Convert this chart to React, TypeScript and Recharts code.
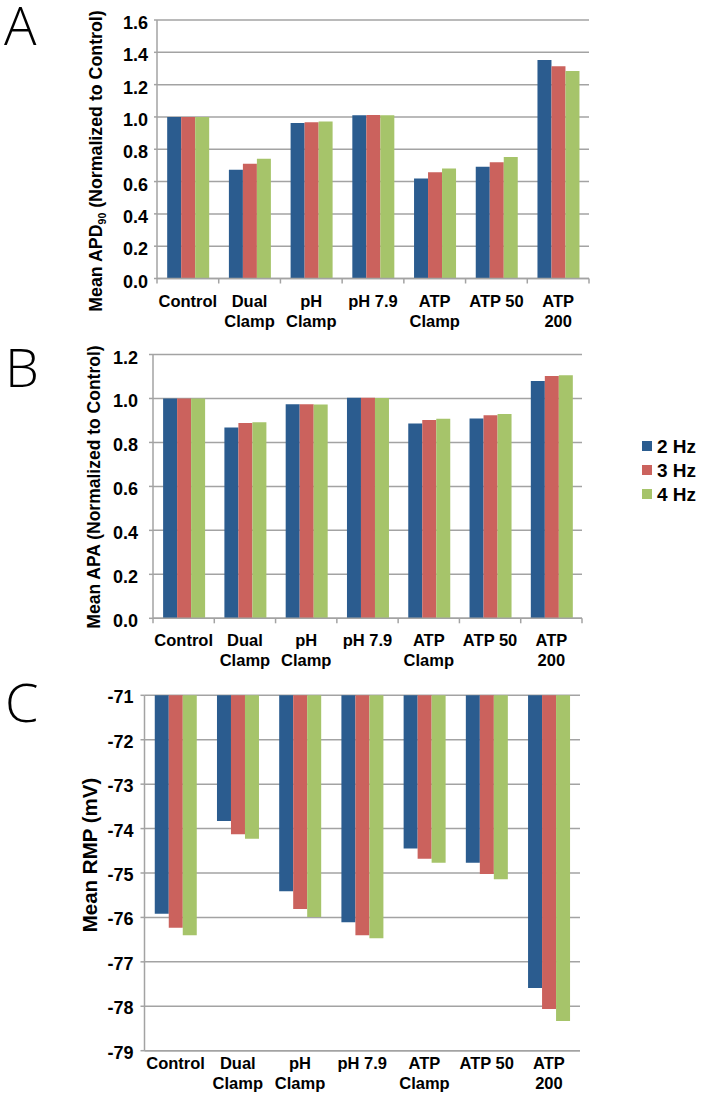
import React from 'react';
import { BarChart, Bar, XAxis, YAxis, CartesianGrid } from 'recharts';

// ---------- data ----------
const categories = ['Control', 'Dual\nClamp', 'pH\nClamp', 'pH 7.9', 'ATP\nClamp', 'ATP 50', 'ATP\n200'];
const seriesNames = ['2 Hz', '3 Hz', '4 Hz'];

const apd2Hz = [1.0, 0.673, 0.963, 1.01, 0.619, 0.692, 1.352];
const apd3Hz = [1.0, 0.71, 0.967, 1.012, 0.658, 0.72, 1.313];
const apd4Hz = [1.0, 0.741, 0.971, 1.01, 0.681, 0.752, 1.284];

const apa2Hz = [1.0, 0.868, 0.974, 1.003, 0.886, 0.909, 1.08];
const apa3Hz = [1.0, 0.888, 0.974, 1.003, 0.902, 0.924, 1.102];
const apa4Hz = [1.0, 0.892, 0.973, 1.002, 0.908, 0.929, 1.106];

const rmp2Hz = [-75.92, -73.83, -75.41, -76.11, -74.45, -74.77, -77.59];
const rmp3Hz = [-76.23, -74.13, -75.81, -76.4, -74.68, -75.02, -78.06];
const rmp4Hz = [-76.4, -74.23, -75.99, -76.47, -74.77, -75.14, -78.33];

const apdTicks = [0, 0.2, 0.4, 0.6, 0.8, 1.0, 1.2, 1.4, 1.6];
const apaTicks = [0, 0.2, 0.4, 0.6, 0.8, 1.0, 1.2];
const rmpTicks = [-79, -78, -77, -76, -75, -74, -73, -72, -71];

// ---------- style ----------
const COLORS = ['#2B5C8F', '#CB625D', '#A6C46A'];
const GRAY = '#a3a3a3';
const FONT = '"Liberation Sans", Arial, Helvetica, sans-serif';

const build = (a: number[], b: number[], c: number[]) =>
  categories.map((name, i) => ({ name, hz2: a[i], hz3: b[i], hz4: c[i] }));

const apdData = build(apd2Hz, apd3Hz, apd4Hz);
const apaData = build(apa2Hz, apa3Hz, apa4Hz);
const rmpData = build(rmp2Hz, rmp3Hz, rmp4Hz);

function makeXTick(band: number, firstOffset: number, lineH: number, drawTicks: boolean) {
  return (props: any) => {
    const { x, y, payload, index } = props;
    const lines = String(payload.value).split('\n');
    return (
      <g>
        {drawTicks && (
          <line x1={x - band / 2} x2={x - band / 2} y1={y} y2={y + 5} stroke={GRAY} strokeWidth={1.5} />
        )}
        {drawTicks && index === categories.length - 1 && (
          <line x1={x + band / 2} x2={x + band / 2} y1={y} y2={y + 5} stroke={GRAY} strokeWidth={1.5} />
        )}
        <text
          x={x}
          y={y + firstOffset}
          textAnchor="middle"
          dominantBaseline="central"
          fontFamily={FONT}
          fontWeight="bold"
          fontSize={16.5}
          fill="#000"
        >
          {lines.map((l, i) => (
            <tspan key={i} x={x} dy={i === 0 ? 0 : lineH}>
              {l}
            </tspan>
          ))}
        </text>
      </g>
    );
  };
}

function makeTopTick(band: number) {
  return (props: any) => {
    const { x, y, index } = props;
    return (
      <g>
        <line x1={x - band / 2} x2={x - band / 2} y1={y} y2={y + 5} stroke={GRAY} strokeWidth={1.5} />
        {index === categories.length - 1 && (
          <line x1={x + band / 2} x2={x + band / 2} y1={y} y2={y + 5} stroke={GRAY} strokeWidth={1.5} />
        )}
      </g>
    );
  };
}

function makeYTick(fmt: (v: number) => string, dy: number) {
  return (props: any) => {
    const { x, y, payload } = props;
    return (
      <text
        x={x}
        y={y + dy}
        textAnchor="end"
        dominantBaseline="central"
        fontFamily={FONT}
        fontWeight="bold"
        fontSize={18}
        fill="#000"
      >
        {fmt(payload.value)}
      </text>
    );
  };
}

const bars = () =>
  ['hz2', 'hz3', 'hz4'].map((k, i) => (
    <Bar key={k} dataKey={k} name={seriesNames[i]} fill={COLORS[i]} isAnimationActive={false} />
  ));

export default function App() {
  return (
    <div style={{ position: 'absolute', left: 0, top: 0, width: 703, height: 1097, background: '#fff' }}>
      {/* Panel A */}
      <div style={{ position: 'absolute', left: 0, top: 0 }}>
        <BarChart
          width={703}
          height={345}
          data={apdData}
          margin={{ top: 20, right: 114, left: 97, bottom: 16.5 }}
          barCategoryGap="16.5%"
          barGap={0}
        >
          <CartesianGrid vertical={false} stroke={GRAY} strokeWidth={1.5} />
          <XAxis
            dataKey="name"
            height={50}
            interval={0}
            tickSize={0}
            tickMargin={0}
            axisLine={{ stroke: GRAY, strokeWidth: 1.5 }}
            tickLine={false}
            tick={makeXTick(432 / 7, 22.5, 19.5, true)}
          />
          <YAxis
            type="number"
            domain={[0, 1.6]}
            ticks={apdTicks}
            width={60}
            tickSize={3}
            tickMargin={6}
            axisLine={{ stroke: GRAY, strokeWidth: 1.5 }}
            tickLine={{ stroke: GRAY, strokeWidth: 1.5 }}
            tick={makeYTick((v) => v.toFixed(1), 3)}
          />
          {bars()}
        </BarChart>
      </div>

      {/* Panel B */}
      <div style={{ position: 'absolute', left: 0, top: 340 }}>
        <BarChart
          width={703}
          height={330}
          data={apaData}
          margin={{ top: 14.5, right: 121, left: 93, bottom: 1.7 }}
          barCategoryGap="16.5%"
          barGap={0}
        >
          <CartesianGrid vertical={false} stroke={GRAY} strokeWidth={1.5} />
          <XAxis
            dataKey="name"
            height={50}
            interval={0}
            tickSize={0}
            tickMargin={0}
            axisLine={{ stroke: GRAY, strokeWidth: 1.5 }}
            tickLine={false}
            tick={makeXTick(429 / 7, 21.7, 20, true)}
          />
          <YAxis
            type="number"
            domain={[0, 1.2]}
            ticks={apaTicks}
            width={60}
            tickSize={4}
            tickMargin={11}
            axisLine={{ stroke: GRAY, strokeWidth: 1.5 }}
            tickLine={{ stroke: GRAY, strokeWidth: 1.5 }}
            tick={makeYTick((v) => v.toFixed(1), 3)}
          />
          {bars()}
        </BarChart>
      </div>

      {/* Panel C */}
      <div style={{ position: 'absolute', left: 0, top: 680 }}>
        <BarChart
          width={703}
          height={417}
          data={rmpData}
          margin={{ top: 15.3, right: 123, left: 84.5, bottom: 1.3 }}
          barCategoryGap="16.5%"
          barGap={0}
        >
          <CartesianGrid vertical={false} stroke={GRAY} strokeWidth={1.5} />
          <XAxis
            dataKey="name"
            height={45}
            interval={0}
            tickSize={0}
            tickMargin={0}
            axisLine={{ stroke: GRAY, strokeWidth: 1.5 }}
            tickLine={false}
            tick={makeXTick(435.5 / 7, 12.3, 20, false)}
          />
          <XAxis
            xAxisId="top"
            dataKey="name"
            orientation="top"
            height={0}
            interval={0}
            tickSize={0}
            tickMargin={0}
            axisLine={false}
            tickLine={false}
            tick={makeTopTick(435.5 / 7)}
          />
          <YAxis
            type="number"
            domain={[-79, -71]}
            ticks={rmpTicks}
            width={60}
            tickSize={4}
            tickMargin={7}
            axisLine={{ stroke: GRAY, strokeWidth: 1.5 }}
            tickLine={{ stroke: GRAY, strokeWidth: 1.5 }}
            tick={makeYTick((v) => String(v), 2)}
          />
          {bars()}
        </BarChart>
      </div>

      {/* Overlay: panel letters, axis titles, legend */}
      <svg
        width={703}
        height={1097}
        style={{ position: 'absolute', left: 0, top: 0, pointerEvents: 'none' }}
      >
        <g fontFamily='"Open Sans", "DejaVu Sans", sans-serif' fontWeight={300} fontSize={54} fill="#000">
          <text x={4} y={45}>A</text>
          <text x={5} y={387}>B</text>
          <text x={5} y={722}>C</text>
        </g>
        <g fontFamily={FONT} fontWeight="bold" fill="#000">
          <text transform="rotate(-90 102 161)" x={102} y={161} textAnchor="middle" fontSize={17.8}>
            Mean APD
            <tspan fontSize={10.5} dy={4}>90</tspan>
            <tspan dy={-4}> (Normalized to Control)</tspan>
          </text>
          <text transform="rotate(-90 100 487)" x={100} y={487} textAnchor="middle" fontSize={17.5}>
            Mean APA (Normalized to Control)
          </text>
          <text transform="rotate(-90 97 855)" x={97} y={855} textAnchor="middle" fontSize={20.5}>
            Mean RMP (mV)
          </text>
        </g>
        <g fontFamily={FONT} fontWeight="bold" fontSize={19} fill="#000">
          {seriesNames.map((s, i) => (
            <g key={s}>
              <rect x={642} y={441 + i * 24} width={10} height={10} fill={COLORS[i]} />
              <text x={657} y={446 + i * 24} dominantBaseline="central">
                {s}
              </text>
            </g>
          ))}
        </g>
      </svg>
    </div>
  );
}
